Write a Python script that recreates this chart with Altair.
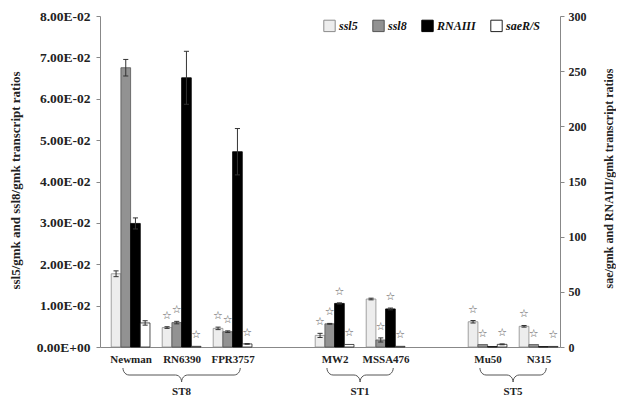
import math
import altair as alt
import pandas as pd

# ---------------- data ----------------
strains = ["Newman", "RN6390", "FPR3757", "MW2", "MSSA476", "Mu50", "N315"]
slots = [0, 1, 2, 4, 5, 7, 8]          # category slots (3 and 6 are blank gaps)

lineages = ["ST8", "ST1", "ST5"]
lineage_first = ["Newman", "MW2", "Mu50"]
lineage_last = ["FPR3757", "MSSA476", "N315"]

series = ["ssl5", "ssl8", "RNAIII", "saeR/S"]
series_side = ["left", "left", "right", "right"]

ssl5 = [0.0177, 0.0047, 0.0045, 0.0028, 0.0116, 0.0061, 0.0050]
ssl5_err = [0.0007, 0.0002, 0.0003, 0.0005, 0.0002, 0.0003, 0.0002]
ssl8 = [0.0675, 0.0059, 0.0037, 0.0056, 0.0017, 0.0006, 0.0006]
ssl8_err = [0.0020, 0.0003, 0.0002, 0.0001, 0.0005, 0.0, 0.0]
rna3 = [112, 244, 177, 39.5, 34.5, 0.3, 0.3]
rna3_err = [5, 24, 21, 0.5, 0.8, 0, 0]
saers = [21.8, 0.6, 2.8, 2.3, 0.6, 2.4, 0.5]
saers_err = [2.0, 0, 0.3, 0, 0, 0.4, 0]

ssl5_star = [False, True, True, True, False, True, True]
ssl8_star = [False, True, True, True, True, True, True]
rna3_star = [False, False, False, True, True, False, False]
saers_star = [False, True, True, True, True, True, True]

# ---------------- styles ----------------
FONT = "Liberation Serif"
fills = ["#ededed", "#929292", "#000000", "#ffffff"]
strokes = ["#8c8c8c", "#555555", "#000000", "#222222"]
BW = 0.19  # bar width in slot units

vals = {"ssl5": ssl5, "ssl8": ssl8, "RNAIII": rna3, "saeR/S": saers}
errs = {"ssl5": ssl5_err, "ssl8": ssl8_err, "RNAIII": rna3_err, "saeR/S": saers_err}
stars = {"ssl5": ssl5_star, "ssl8": ssl8_star, "RNAIII": rna3_star, "saeR/S": saers_star}

rows = []
for si, s in enumerate(series):
    for k, st in enumerate(strains):
        v, e = vals[s][k], errs[s][k]
        x0 = slots[k] + (si - 2) * BW
        rows.append(dict(strain=st, series=s, side=series_side[si], value=v, err=e,
                         base=0.0, lo=v - e, hi=v + e, x0=x0, x1=x0 + BW, xc=x0 + BW / 2,
                         cl=x0 + BW / 2 - 0.05, cr=x0 + BW / 2 + 0.05,
                         star=stars[s][k]))
df = pd.DataFrame(rows)

# braces under lineage groups
brace_rows = []
lab_rows = []
d = 0.12
n = 7
for g, (a, b, lab) in enumerate(zip(lineage_first, lineage_last, lineages)):
    xa = slots[strains.index(a)] - 0.15
    xb = slots[strains.index(b)] + 0.15
    xm = (xa + xb) / 2
    pts = []
    for i in range(n):
        t = (math.pi / 2) * i / (n - 1)
        pts.append((xa + d * (1 - math.cos(t)), 0.5 * math.sin(t)))
    for i in range(n):
        t = (math.pi / 2) * i / (n - 1)
        pts.append((xm - d + d * math.sin(t), 0.5 + 0.5 * (1 - math.cos(t))))
    for i in range(n):
        t = (math.pi / 2) * (n - 1 - i) / (n - 1)
        pts.append((xm + d - d * math.sin(t), 0.5 + 0.5 * (1 - math.cos(t))))
    for i in range(n):
        t = (math.pi / 2) * (n - 1 - i) / (n - 1)
        pts.append((xb - d * (1 - math.cos(t)), 0.5 * math.sin(t)))
    for j, (px, py) in enumerate(pts):
        brace_rows.append(dict(g=lab, o=j, bx=px, by=py))
    lab_rows.append(dict(lab=lab, mx=xm))
brace_df = pd.DataFrame(brace_rows)
lab_df = pd.DataFrame(lab_rows)

# ---------------- scales & axes ----------------
H = 331
label_map = "{" + ",".join(f"'{s}':'{n}'" for s, n in zip(slots, strains)) + "}"
xscale = alt.Scale(domain=[-0.6, 8.42], nice=False, zero=False)
xaxis = alt.Axis(values=slots, labelExpr=f"{label_map}[datum.value] || ''", title=None,
                 ticks=False, grid=False, domainColor="#888888", labelFont=FONT,
                 labelFontSize=11, labelFontWeight="bold", labelColor="#222222",
                 labelPadding=6, labelFlush=False, labelOverlap=False)

lscale = alt.Scale(domain=[0, 0.08], nice=False, zero=True)
laxis = alt.Axis(values=[i / 100 for i in range(9)],
                 labelExpr="datum.value == 0 ? '0.00E+00' : format(datum.value*100, '.2f') + 'E-02'",
                 title="ssl5/gmk and ssl8/gmk transcript ratios", titleX=-85, titleY=164,
                 titleAngle=270, titleAlign="center", titleBaseline="middle",
                 grid=False, tickSize=4, labelPadding=6, domainColor="#888888",
                 tickColor="#888888", labelFont=FONT, labelFontSize=13.5,
                 labelFontWeight="bold", labelColor="#222222", titleFont=FONT,
                 titleFontSize=13, titleFontWeight="bold", titleColor="#222222")

rscale = alt.Scale(domain=[0, 300], nice=False, zero=True)
raxis = alt.Axis(orient="right", values=list(range(0, 301, 50)), format="d",
                 title="sae/gmk and RNAIII/gmk transcript ratios", titleX=48, titleY=162,
                 titleAngle=270, titleAlign="center", titleBaseline="middle",
                 grid=False, tickSize=4, labelPadding=4, domainColor="#888888",
                 tickColor="#888888", labelFont=FONT, labelFontSize=12,
                 labelFontWeight="bold", labelColor="#222222", titleFont=FONT,
                 titleFontSize=12, titleFontWeight="bold", titleColor="#222222")

legend = alt.Legend(orient="none", legendX=223, legendY=3, direction="horizontal",
                    title=None, symbolType="square", symbolSize=130,
                    labelFont=FONT, labelFontSize=12, labelFontStyle="italic",
                    labelFontWeight="bold", labelColor="#111111", columnPadding=12,
                    labelOffset=3, symbolStrokeColor="#333333", symbolStrokeWidth=1,
                    symbolOpacity=1)


def side_layer(side, yscale, yaxis):
    base = alt.Chart().transform_filter(f"datum.side == '{side}'")
    bars = base.mark_bar(strokeWidth=0.8).encode(
        x=alt.X("x0:Q", scale=xscale, axis=xaxis), x2="x1:Q",
        y=alt.Y("value:Q", scale=yscale, axis=yaxis), y2="base:Q",
        color=alt.Color("series:N", scale=alt.Scale(domain=series, range=fills), legend=legend),
        stroke=alt.Stroke("series:N", scale=alt.Scale(domain=series, range=strokes), legend=None),
    )
    eb = base.transform_filter("datum.err > 0")
    rule = eb.mark_rule(color="#333333", strokeWidth=1).encode(
        x=alt.X("xc:Q", scale=xscale, axis=xaxis),
        y=alt.Y("lo:Q", scale=yscale, axis=yaxis), y2="hi:Q")
    cap_hi = eb.mark_rule(color="#333333", strokeWidth=1).encode(
        x=alt.X("cl:Q", scale=xscale, axis=xaxis), x2="cr:Q",
        y=alt.Y("hi:Q", scale=yscale, axis=yaxis))
    cap_lo = eb.mark_rule(color="#333333", strokeWidth=1).encode(
        x=alt.X("cl:Q", scale=xscale, axis=xaxis), x2="cr:Q",
        y=alt.Y("lo:Q", scale=yscale, axis=yaxis))
    st = base.transform_filter("datum.star").mark_text(
        text="☆", font="DejaVu Sans", fontSize=11, color="#555555",
        baseline="middle", dy=-11).encode(
        x=alt.X("xc:Q", scale=xscale, axis=xaxis),
        y=alt.Y("hi:Q", scale=yscale, axis=yaxis))
    return alt.layer(bars, rule, cap_hi, cap_lo, st)


left = side_layer("left", lscale, laxis)
right = side_layer("right", rscale, raxis)

braces = alt.Chart(brace_df).mark_line(color="#555555", strokeWidth=1).encode(
    x=alt.X("bx:Q", scale=xscale, axis=xaxis),
    y=alt.Y("by:Q", scale=alt.Scale(domain=[0, 1], range=[352, 366], nice=False, zero=False),
            axis=None),
    detail="g:N", order="o:Q")

st_labels = alt.Chart(lab_df).mark_text(font=FONT, fontSize=11, fontWeight="bold",
                                        color="#222222", baseline="middle").encode(
    x=alt.X("mx:Q", scale=xscale, axis=xaxis), y=alt.value(376), text="lab:N")

chart = alt.layer(left, right, braces, st_labels, data=df).resolve_scale(
    y="independent"
).properties(
    width=460, height=H,
    padding={"left": 92, "top": 8, "right": 56, "bottom": 49},
    autosize=alt.AutoSizeParams(type="none"),
).configure_view(stroke=None)

chart.save("out.html", embed_options={"renderer": "svg", "actions": False})
